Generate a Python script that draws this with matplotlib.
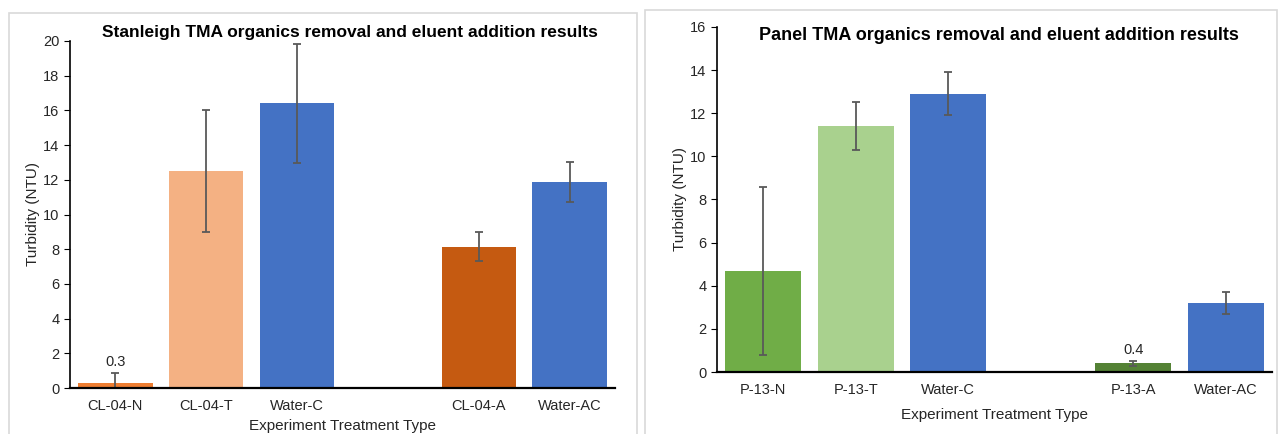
import matplotlib.pyplot as plt
from matplotlib.patches import Rectangle

plt.rcParams['font.family'] = ['Liberation Sans', 'DejaVu Sans']

# left chart: Stanleigh
left_labels = ['CL-04-N', 'CL-04-T', 'Water-C', '', 'CL-04-A', 'Water-AC']
left_values = [0.3, 12.5, 16.4, 0, 8.15, 11.85]
left_err = [0.55, 3.5, 3.45, 0, 0.85, 1.15]
left_colors = ['#ED7D31', '#F4B183', '#4472C4', 'none', '#C55A11', '#4472C4']

# right chart: Panel
right_labels = ['P-13-N', 'P-13-T', 'Water-C', '', 'P-13-A', 'Water-AC']
right_values = [4.7, 11.4, 12.9, 0, 0.4, 3.2]
right_err = [3.9, 1.1, 1.0, 0, 0.12, 0.5]
right_colors = ['#70AD47', '#A9D18E', '#4472C4', 'none', '#548235', '#4472C4']

fig = plt.figure(figsize=(12.79, 4.34), dpi=100)

# panel borders
fig.patches.append(Rectangle((9/1279, -0.1), 628/1279, 1.1 - 13/434, transform=fig.transFigure,
                             fill=False, edgecolor='#D9D9D9', linewidth=1.2))
fig.patches.append(Rectangle((645/1279, -0.1), 632/1279, 1.1 - 10/434, transform=fig.transFigure,
                             fill=False, edgecolor='#D9D9D9', linewidth=1.2))


def draw(ax, labels, values, err, colors, ymax, title, title_x, title_y, title_size,
         note_idx, note, xpad):
    x = list(range(len(labels)))
    yerr = [[min(e, v) for v, e in zip(values, err)], err]
    ax.bar(x, values, width=0.82, color=colors, yerr=yerr, capsize=3,
           error_kw=dict(ecolor='#595959', elinewidth=1.3, capthick=1.3))
    ax.set_xlim(-0.5, len(labels) - 0.5)
    ax.set_ylim(0, ymax)
    ax.set_yticks(range(0, ymax + 1, 2))
    ax.set_xticks([i for i, l in enumerate(labels) if l])
    ax.set_xticklabels([l for l in labels if l])
    ax.tick_params(axis='x', length=0, pad=8, labelsize=10.5, labelcolor='#262626')
    ax.tick_params(axis='y', length=4, labelsize=10.5, labelcolor='#262626', direction='out')
    for s in ['top', 'right']:
        ax.spines[s].set_visible(False)
    ax.spines['left'].set_linewidth(1.2)
    ax.spines['bottom'].set_linewidth(1.6)
    ax.set_ylabel('Turbidity (NTU)', fontsize=11, color='#262626', labelpad=2)
    ax.set_xlabel('Experiment Treatment Type', fontsize=11, color='#262626', labelpad=xpad)
    fig.text(title_x, title_y, title, fontsize=title_size, fontweight='bold', ha='center', va='center')
    ax.annotate(note, (note_idx, values[note_idx] + err[note_idx]), xytext=(0, 3),
                textcoords='offset points', ha='center', va='bottom', fontsize=10.5, color='#262626')


axl = fig.add_axes([70/1279, 1 - 388/434, 545/1279, 347/434])
draw(axl, left_labels, left_values, left_err, left_colors, 20,
     'Stanleigh TMA organics removal and eluent addition results', 350/1279, 1 - 32/434, 12.5,
     0, '0.3', 4)

axr = fig.add_axes([717/1279, 1 - 372/434, 555/1279, 345/434])
draw(axr, right_labels, right_values, right_err, right_colors, 16,
     'Panel TMA organics removal and eluent addition results', 999/1279, 1 - 35/434, 13,
     4, '0.4', 8)

fig.savefig('out.png', dpi=100)
